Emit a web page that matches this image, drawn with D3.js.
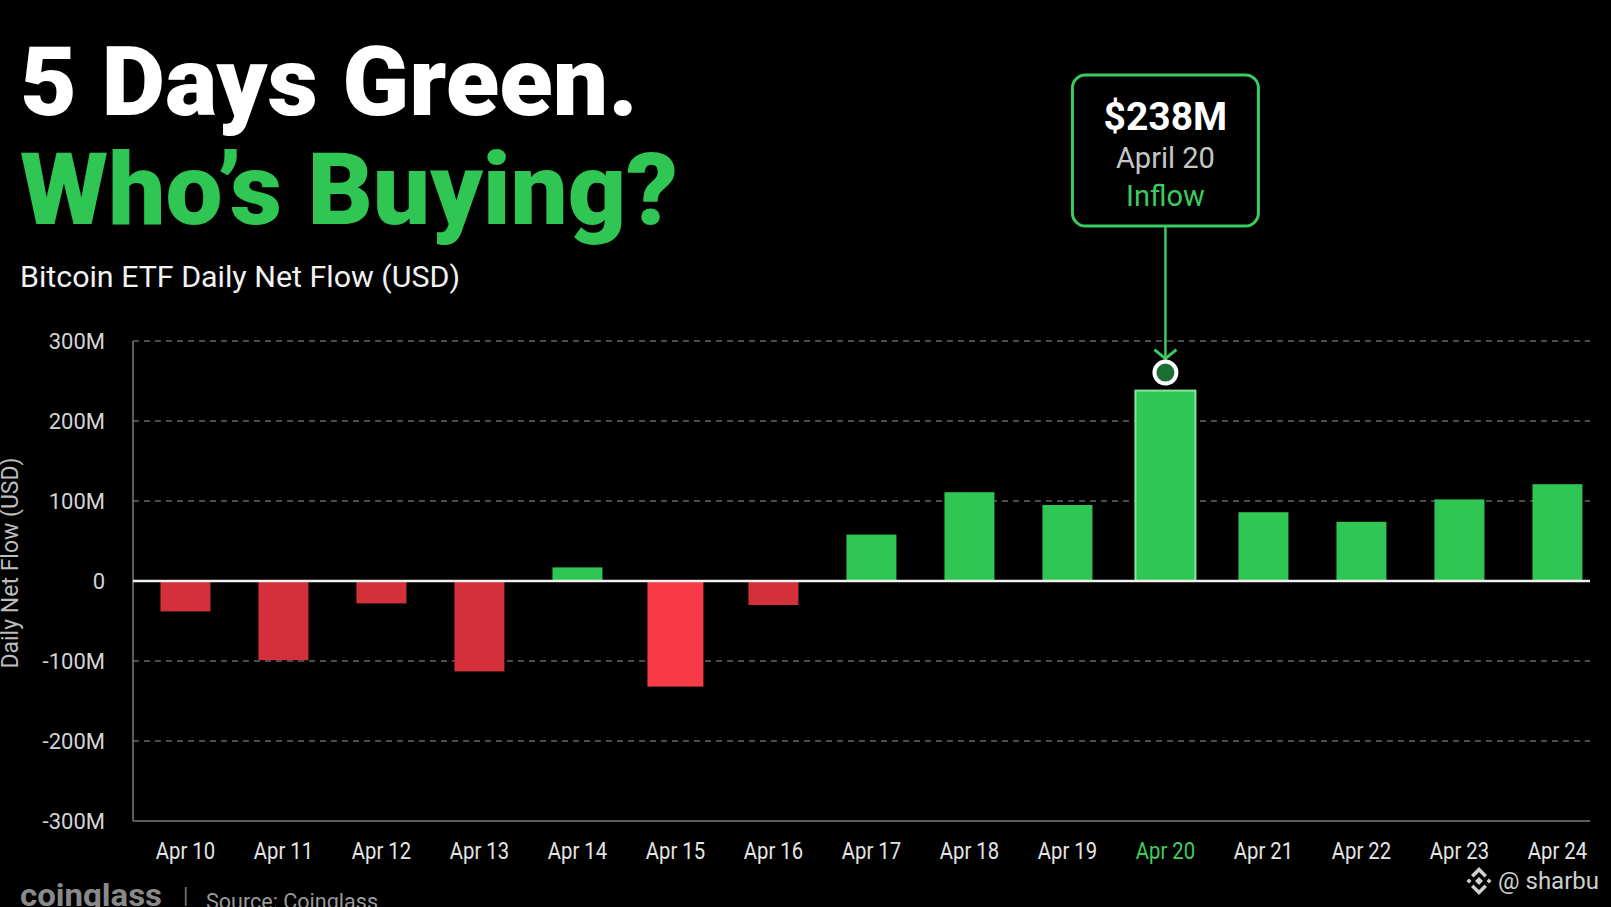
<!DOCTYPE html>
<html><head><meta charset="utf-8">
<script src="https://cdn.jsdelivr.net/npm/d3@7"></script>
<style>
html,body{margin:0;padding:0;background:#000;overflow:hidden}
svg{display:block}
text{font-family:Roboto,"Noto Sans",sans-serif}
</style>
</head><body>
<svg id="c" width="1611" height="907"></svg>
<script>
// ---- data ----
const dates = ["Apr 10","Apr 11","Apr 12","Apr 13","Apr 14","Apr 15","Apr 16","Apr 17","Apr 18","Apr 19","Apr 20","Apr 21","Apr 22","Apr 23","Apr 24"];
const flows = [-38,-99,-28,-113,17,-132,-30,58,111,95,238,86,74,102,121]; // USD millions
const yTickValues = [-300,-200,-100,0,100,200,300];
const yTickLabels = ["-300M","-200M","-100M","0","100M","200M","300M"];
const highlightDate = "Apr 20";
const annotationLines = ["$238M","April 20","Inflow"];
const titleLine1 = "5 Days Green.";
const titleLine2 = "Who\u2019s Buying?";
const subtitle = "Bitcoin ETF Daily Net Flow (USD)";
const yAxisTitle = "Daily Net Flow (USD)";
const brand = "coinglass";
const sourceText = "Source: Coinglass";
const handle = "@ sharbu";

// ---- setup ----
const W = 1611, H = 907;
const GREEN = "#2fc653", RED = "#d3303a", RED_BRIGHT = "#f73b46";
const svg = d3.select("#c");
svg.append("rect").attr("width", W).attr("height", H).attr("fill", "#000");

const data = dates.map((d, i) => ({date: d, value: flows[i]}));
const minVal = d3.min(flows);

const step = 98, pIn = 0.49, pOut = 0.28;
const x = d3.scaleBand().domain(dates)
  .range([133, 133 + step * (dates.length - pIn + 2 * pOut)])
  .paddingInner(pIn).paddingOuter(pOut);
const y = d3.scaleLinear().domain([-300, 300]).range([821, 341]);
const bw = x.bandwidth();
const plotL = 133, plotR = 1590;

// titles
svg.append("text").text(titleLine1).attr("x", 20).attr("y", 115)
  .attr("font-size", 96).attr("font-weight", 900).attr("fill", "#fff")
  .attr("textLength", 618).attr("lengthAdjust", "spacingAndGlyphs");
svg.append("text").text(titleLine2).attr("x", 20).attr("y", 224)
  .attr("font-size", 101).attr("font-weight", 900).attr("fill", "#2fc653")
  .attr("textLength", 658).attr("lengthAdjust", "spacingAndGlyphs");
svg.append("text").text(subtitle).attr("x", 20).attr("y", 287)
  .attr("font-size", 30).attr("fill", "#f2f2f2")
  .attr("textLength", 440).attr("lengthAdjust", "spacingAndGlyphs");

// grid
const grid = svg.append("g");
grid.selectAll("line.g").data(yTickValues.filter(v => v !== 0 && v !== -300)).join("line")
  .attr("x1", plotL).attr("x2", plotR).attr("y1", d => y(d)).attr("y2", d => y(d))
  .attr("stroke", "#666").attr("stroke-width", 1.3).attr("stroke-dasharray", "6,5");
grid.append("line").attr("x1", plotL).attr("x2", plotR).attr("y1", y(-300)).attr("y2", y(-300))
  .attr("stroke", "#7a7a7a").attr("stroke-width", 1.5);
grid.append("line").attr("x1", plotL).attr("x2", plotL).attr("y1", y(300)).attr("y2", y(-300))
  .attr("stroke", "#7a7a7a").attr("stroke-width", 1.5);

// y axis
const yAxis = svg.append("g").attr("transform", `translate(${plotL},0)`)
  .call(d3.axisLeft(y).tickValues(yTickValues).tickFormat((d, i) => yTickLabels[i]).tickSize(0).tickPadding(28));
yAxis.select(".domain").remove();
yAxis.selectAll("text").attr("font-size", 22).attr("fill", "#d4d4d4").attr("font-family", "Roboto, sans-serif");

// x axis
const xAxis = svg.append("g").attr("transform", `translate(0,${y(-300)})`)
  .call(d3.axisBottom(x).tickSize(0).tickPadding(22));
xAxis.select(".domain").remove();
xAxis.selectAll("text").attr("font-size", 23).attr("font-family", "Roboto, sans-serif")
  .attr("fill", d => d === highlightDate ? "#3dcf60" : "#e4e4e4")
  .attr("transform", "scale(0.88,1)");

// bars
const barW = d => d.date === highlightDate ? bw + 10 : (d.value === minVal ? bw + 6 : bw);
svg.append("g").selectAll("rect").data(data).join("rect")
  .attr("x", d => x(d.date) + bw / 2 - barW(d) / 2)
  .attr("width", barW)
  .attr("y", d => y(Math.max(0, d.value)))
  .attr("height", d => Math.abs(y(d.value) - y(0)))
  .attr("fill", d => d.value >= 0 ? GREEN : (d.value === minVal ? RED_BRIGHT : RED))
  .attr("stroke", d => d.date === highlightDate ? "#86e6a0" : "none")
  .attr("stroke-width", 2);

// zero line
svg.append("line").attr("x1", plotL).attr("x2", plotR).attr("y1", y(0)).attr("y2", y(0))
  .attr("stroke", "#f0f0f0").attr("stroke-width", 2.5);

// y axis title
svg.append("text").text(yAxisTitle)
  .attr("transform", `translate(18,${(y(300) + y(-300)) / 2 - 18}) rotate(-90)`)
  .attr("text-anchor", "middle").attr("font-size", 23).attr("fill", "#bdbdbd");

// annotation
const hi = data.find(d => d.date === highlightDate);
const cx = x(hi.date) + bw / 2;
const cy = y(hi.value) - 18;
const ann = svg.append("g");
ann.append("line").attr("x1", cx).attr("x2", cx).attr("y1", 226).attr("y2", cy - 14)
  .attr("stroke", "#3ccb5e").attr("stroke-width", 2.5);
ann.append("path").attr("d", `M${cx - 11},${cy - 23} L${cx},${cy - 14} L${cx + 11},${cy - 23}`)
  .attr("stroke", "#3ccb5e").attr("stroke-width", 3).attr("fill", "none");
ann.append("circle").attr("cx", cx).attr("cy", cy).attr("r", 11)
  .attr("fill", "#1c6f33").attr("stroke", "#fff").attr("stroke-width", 4);
ann.append("rect").attr("x", cx - 93).attr("y", 75).attr("width", 186).attr("height", 151)
  .attr("rx", 13).attr("fill", "#000").attr("stroke", "#3ccb5e").attr("stroke-width", 3);
ann.append("text").text(annotationLines[0]).attr("x", cx).attr("y", 130).attr("text-anchor", "middle")
  .attr("font-size", 39).attr("font-weight", 700).attr("fill", "#fff");
ann.append("text").text(annotationLines[1]).attr("x", cx).attr("y", 168).attr("text-anchor", "middle")
  .attr("font-size", 30).attr("fill", "#c6c6c6").attr("textLength", 99).attr("lengthAdjust", "spacingAndGlyphs");
ann.append("text").text(annotationLines[2]).attr("x", cx).attr("y", 206).attr("text-anchor", "middle")
  .attr("font-size", 29).attr("fill", "#3ccb5e");

// footer
svg.append("text").text(brand).attr("x", 20).attr("y", 906).attr("font-size", 32)
  .attr("font-weight", 700).attr("fill", "#8a8a8a").attr("textLength", 142).attr("lengthAdjust", "spacingAndGlyphs");
svg.append("text").text("|").attr("x", 183).attr("y", 903).attr("font-size", 22).attr("fill", "#777");
svg.append("text").text(sourceText).attr("x", 206).attr("y", 909).attr("font-size", 22)
  .attr("fill", "#9a9a9a").attr("textLength", 172).attr("lengthAdjust", "spacingAndGlyphs");

// handle + icon
const ic = svg.append("g").attr("transform", "translate(1479,881)").attr("fill", "#cfcfcf");
ic.append("path").attr("d", "M0,-4 L4,0 L0,4 L-4,0Z");
ic.append("path").attr("d", "M-10,-2.5 L-7.5,0 L-10,2.5 L-12.5,0Z");
ic.append("path").attr("d", "M10,-2.5 L12.5,0 L10,2.5 L7.5,0Z");
ic.append("path").attr("d", "M0,-14 L8,-6 L5.5,-3.5 L0,-9 L-5.5,-3.5 L-8,-6Z");
ic.append("path").attr("d", "M0,14 L8,6 L5.5,3.5 L0,9 L-5.5,3.5 L-8,6Z");
svg.append("text").text(handle).attr("x", 1498).attr("y", 889).attr("font-size", 24).attr("fill", "#cfcfcf");
</script>
</body></html>
